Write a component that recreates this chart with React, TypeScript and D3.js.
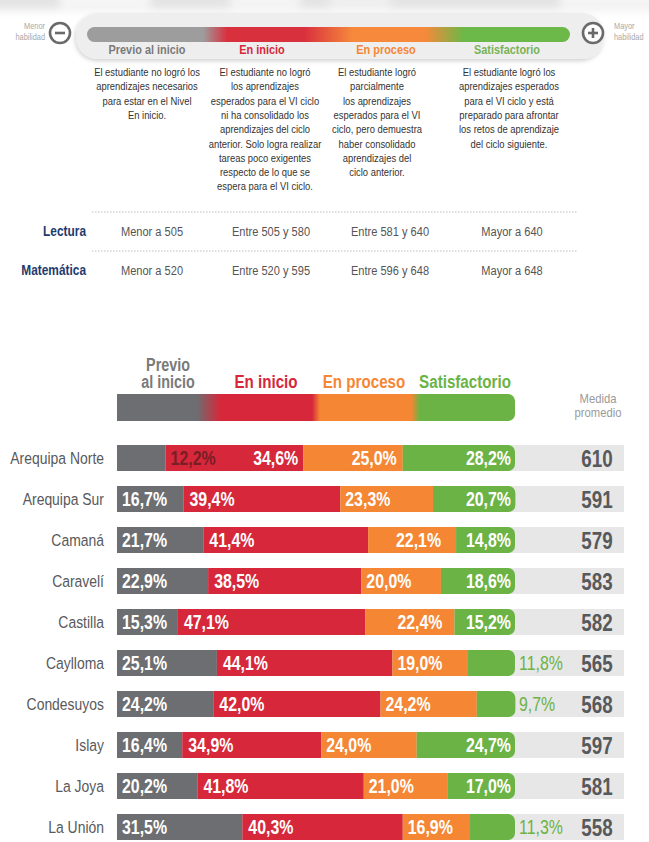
import React from "react";
import * as d3 from "d3";

// ---------- DATA ----------
const levels = ["Previo al inicio", "En inicio", "En proceso", "Satisfactorio"];
const descriptions: string[][] = [
  ["El estudiante no logró los", "aprendizajes necesarios", "para estar en el Nivel", "En inicio."],
  ["El estudiante no logró", "los aprendizajes", "esperados para el VI ciclo", "ni ha consolidado los", "aprendizajes del ciclo", "anterior. Solo logra realizar", "tareas poco exigentes", "respecto de lo que se", "espera para el VI ciclo."],
  ["El estudiante logró", "parcialmente", "los aprendizajes", "esperados para el VI", "ciclo, pero demuestra", "haber consolidado", "aprendizajes del", "ciclo anterior."],
  ["El estudiante logró los", "aprendizajes esperados", "para el VI ciclo y está", "preparado para afrontar", "los retos de aprendizaje", "del ciclo siguiente."],
];
const subjects = ["Lectura", "Matemática"];
const lecturaRanges = ["Menor a 505", "Entre 505 y 580", "Entre 581 y 640", "Mayor a 640"];
const matematicaRanges = ["Menor a 520", "Entre 520 y 595", "Entre 596 y 648", "Mayor a 648"];

const provinces = ["Arequipa Norte", "Arequipa Sur", "Camaná", "Caravelí", "Castilla", "Caylloma", "Condesuyos", "Islay", "La Joya", "La Unión"];
const previo = [12.2, 16.7, 21.7, 22.9, 15.3, 25.1, 24.2, 16.4, 20.2, 31.5];
const inicio = [34.6, 39.4, 41.4, 38.5, 47.1, 44.1, 42.0, 34.9, 41.8, 40.3];
const proceso = [25.0, 23.3, 22.1, 20.0, 22.4, 19.0, 24.2, 24.0, 21.0, 16.9];
const satisfactorio = [28.2, 20.7, 14.8, 18.6, 15.2, 11.8, 9.7, 24.7, 17.0, 11.3];
const medida = [610, 591, 579, 583, 582, 565, 568, 597, 581, 558];

// ---------- STYLE ----------
const FONT = "'Liberation Sans', Arial, sans-serif";
const SX = 0.82; // condense factor (Arial Narrow look)
const COLORS = ["#6d6e71", "#d6283a", "#f58634", "#6cb345"];
const HEAD_COLORS = ["#7a7a7a", "#d6283a", "#f58634", "#79b356"];
const orangeInset: Record<string, number> = { "Arequipa Norte": 6, "Camaná": 15, "Castilla": 12 };

const fmt = (v: number) => d3.format(".1f")(v).replace(".", ",") + "%";

type TP = { x: number; y: number; size: number; fill: string; anchor?: string; bold?: boolean; sx?: number; children: React.ReactNode };
const T = ({ x, y, size, fill, anchor = "start", bold = false, sx = SX, children }: TP) => (
  <text transform={`translate(${x},${y}) scale(${sx},1)`} fontSize={size} fill={fill} textAnchor={anchor} fontWeight={bold ? "bold" : "normal"}>
    {children}
  </text>
);

export default function App() {
  const W = 649, H = 842;
  const headCx = [147, 262, 386, 507];
  const descCx = [147, 265, 377, 509];
  const tableCx = [152, 271, 390, 512];

  const keys = ["previo", "inicio", "proceso", "satisfactorio"];
  const rows = provinces.map((p, i) => ({ name: p, previo: previo[i], inicio: inicio[i], proceso: proceso[i], satisfactorio: satisfactorio[i], medida: medida[i] }));
  const stack = d3.stack<any>().keys(keys)(rows);

  const x = d3.scaleLinear().domain([0, 100]).range([117, 515]);
  const y = d3.scaleBand().domain(provinces).range([437.5, 847.5]).paddingInner(0.366).paddingOuter(0.183);
  const bh = y.bandwidth();
  const R = 7;

  const roundedRight = (x0: number, x1: number, y0: number, h: number, r: number) => {
    const rr = Math.min(r, x1 - x0);
    return `M${x0},${y0}H${x1 - rr}A${rr},${rr} 0 0 1 ${x1},${y0 + rr}V${y0 + h - rr}A${rr},${rr} 0 0 1 ${x1 - rr},${y0 + h}H${x0}Z`;
  };

  return (
    <svg width={W} height={H} style={{ position: "absolute", left: 0, top: 0, background: "#fff" }} fontFamily={FONT}>
      <defs>
        <linearGradient id="topGrad" x1="0" x2="1" y1="0" y2="0">
          <stop offset="0" stopColor="#9d9d9d" />
          <stop offset="0.24" stopColor="#9d9d9d" />
          <stop offset="0.29" stopColor="#d9303e" />
          <stop offset="0.45" stopColor="#d9303e" />
          <stop offset="0.55" stopColor="#f6893b" />
          <stop offset="0.70" stopColor="#f6893b" />
          <stop offset="0.78" stopColor="#6cb848" />
          <stop offset="1" stopColor="#6cb848" />
        </linearGradient>
        <linearGradient id="legGrad" x1="0" x2="1" y1="0" y2="0">
          <stop offset="0" stopColor="#6d6e71" />
          <stop offset="0.2" stopColor="#6d6e71" />
          <stop offset="0.26" stopColor="#d6283a" />
          <stop offset="0.49" stopColor="#d6283a" />
          <stop offset="0.51" stopColor="#f58634" />
          <stop offset="0.74" stopColor="#f58634" />
          <stop offset="0.76" stopColor="#6cb345" />
          <stop offset="1" stopColor="#6cb345" />
        </linearGradient>
        <filter id="blur4" x="-10%" y="-50%" width="120%" height="200%">
          <feGaussianBlur stdDeviation="4" />
        </filter>
        <filter id="shadow" x="-10%" y="-30%" width="120%" height="180%">
          <feDropShadow dx="-1" dy="2" stdDeviation="2" floodColor="#000" floodOpacity="0.18" />
        </filter>
      </defs>

      {/* top blurred strip */}
      <g filter="url(#blur4)">
        <rect x={-10} y={-10} width={680} height={20} fill="#e4e4e4" />
        <rect x={60} y={-10} width={90} height={18} fill="#f6f6f6" />
        <rect x={230} y={-10} width={70} height={18} fill="#f4f4f4" />
        <rect x={330} y={-10} width={60} height={18} fill="#efefef" />
        <rect x={560} y={-10} width={100} height={18} fill="#f4f4f4" />
      </g>
      {/* header panel */}
      <rect x={76} y={13} width={528} height={46} rx={22} fill="#eeeeee" filter="url(#shadow)" />
      <rect x={87} y={27} width={483} height={15} rx={7.5} fill="url(#topGrad)" />

      {/* minus / plus */}
      <circle cx={60} cy={33} r={10} fill="#fff" stroke="#6a6a6a" strokeWidth={2.6} />
      <line x1={55} x2={65} y1={33} y2={33} stroke="#6a6a6a" strokeWidth={2.6} />
      <circle cx={593} cy={33} r={10} fill="#fff" stroke="#6a6a6a" strokeWidth={2.6} />
      <line x1={588} x2={598} y1={33} y2={33} stroke="#6a6a6a" strokeWidth={2.6} />
      <line x1={593} x2={593} y1={28} y2={38} stroke="#6a6a6a" strokeWidth={2.6} />
      <T x={45} y={29} size={9} fill="#a8a8a8" anchor="end">Menor</T>
      <T x={45} y={40} size={9} fill="#a8a8a8" anchor="end">habilidad</T>
      <T x={614} y={29} size={9} fill="#a8a8a8">Mayor</T>
      <T x={614} y={40} size={9} fill="#a8a8a8">habilidad</T>

      {levels.map((l, i) => (
        <T key={l} x={headCx[i]} y={54} size={13.3} bold fill={HEAD_COLORS[i]} anchor="middle">{l}</T>
      ))}

      {descriptions.map((lines, c) =>
        lines.map((ln, k) => (
          <T key={c + "-" + k} x={descCx[c]} y={76 + k * 14.3} size={11.5} fill="#333" anchor="middle">{ln}</T>
        ))
      )}

      {/* table */}
      <line x1={92} x2={577} y1={212} y2={212} stroke="#bdbdbd" strokeWidth={1} strokeDasharray="1.5 1.5" />
      <line x1={92} x2={577} y1={251} y2={251} stroke="#bdbdbd" strokeWidth={1} strokeDasharray="1.5 1.5" />
      <line x1={92} x2={577} y1={290} y2={290} stroke="#c4c4c4" strokeWidth={2} filter="url(#shadow)" />
      {[lecturaRanges, matematicaRanges].map((rng, r) => (
        <g key={r}>
          <T x={86} y={236 + r * 39} size={14.5} bold fill="#1d3b6e" anchor="end">{subjects[r]}</T>
          {rng.map((t, c) => (
            <T key={c} x={tableCx[c]} y={236 + r * 39} size={13.5} fill="#555" anchor="middle">{t}</T>
          ))}
        </g>
      ))}

      {/* chart header */}
      <T x={168} y={371} size={17.5} bold fill="#7a7a7a" anchor="middle">Previo</T>
      <T x={168} y={388} size={17.5} bold fill="#7a7a7a" anchor="middle">al inicio</T>
      <T x={266} y={388} size={18.5} bold fill={COLORS[1]} anchor="middle">En inicio</T>
      <T x={364} y={388} size={18.5} bold fill={COLORS[2]} anchor="middle">En proceso</T>
      <T x={465} y={388} size={18.5} bold fill={COLORS[3]} anchor="middle">Satisfactorio</T>
      <path d={roundedRight(117, 515, 394, 27, R)} fill="url(#legGrad)" />
      <T x={598} y={403} size={12.5} sx={0.9} fill="#9a9a9a" anchor="middle">Medida</T>
      <T x={598} y={417} size={12.5} sx={0.9} fill="#9a9a9a" anchor="middle">promedio</T>

      {/* rows */}
      {rows.map((row, i) => {
        const y0 = y(row.name)!;
        const cy = y0 + bh / 2;
        const segs = stack.map((s) => s[i]);
        const xs = segs.map((d) => [x(d[0]), x(d[1])]);
        const grayNarrow = xs[0][1] - xs[0][0] < 52;
        const greenNarrow = xs[3][1] - xs[3][0] < 52;
        const vals = [row.previo, row.inicio, row.proceso, row.satisfactorio];
        const ty = cy + 7;
        const LS = 19.4;
        const labels: JSX.Element[] = [];
        if (grayNarrow) {
          labels.push(<T key="g" x={xs[1][0] + 5} y={ty} size={LS} bold fill="#7b1d26">{fmt(vals[0])}</T>);
          labels.push(<T key="r" x={xs[1][1] - 5} y={ty} size={LS} bold fill="#fff" anchor="end">{fmt(vals[1])}</T>);
        } else {
          labels.push(<T key="g" x={xs[0][0] + 5} y={ty} size={LS} bold fill="#fff">{fmt(vals[0])}</T>);
          labels.push(<T key="r" x={xs[1][0] + 6} y={ty} size={LS} bold fill="#fff">{fmt(vals[1])}</T>);
        }
        const inset = orangeInset[row.name];
        if (inset !== undefined) {
          labels.push(<T key="o" x={xs[2][1] - inset} y={ty} size={LS} bold fill="#fff" anchor="end">{fmt(vals[2])}</T>);
        } else {
          labels.push(<T key="o" x={xs[2][0] + 5} y={ty} size={LS} bold fill="#fff">{fmt(vals[2])}</T>);
        }
        if (greenNarrow) {
          labels.push(<T key="s" x={519} y={ty} size={LS} fill="#6cb345">{fmt(vals[3])}</T>);
        } else {
          labels.push(<T key="s" x={Math.min(xs[3][1], 515) - 4} y={ty} size={LS} bold fill="#fff" anchor="end">{fmt(vals[3])}</T>);
        }
        return (
          <g key={row.name}>
            <T x={104} y={cy + 6} size={17} fill="#58595b" anchor="end">{row.name}</T>
            <rect x={117} y={y0} width={624 - 117} height={bh} fill="#e7e7e8" />
            {xs.map(([a, b], k) =>
              k < 3 ? (
                <rect key={k} x={a} y={y0} width={b - a} height={bh} fill={COLORS[k]} />
              ) : (
                <path key={k} d={roundedRight(a, Math.min(b, 515.5), y0, bh, R)} fill={COLORS[k]} />
              )
            )}
            {labels}
            <T x={597} y={cy + 8.5} size={23.5} sx={0.8} bold fill="#58595b" anchor="middle">{row.medida}</T>
          </g>
        );
      })}
    </svg>
  );
}
